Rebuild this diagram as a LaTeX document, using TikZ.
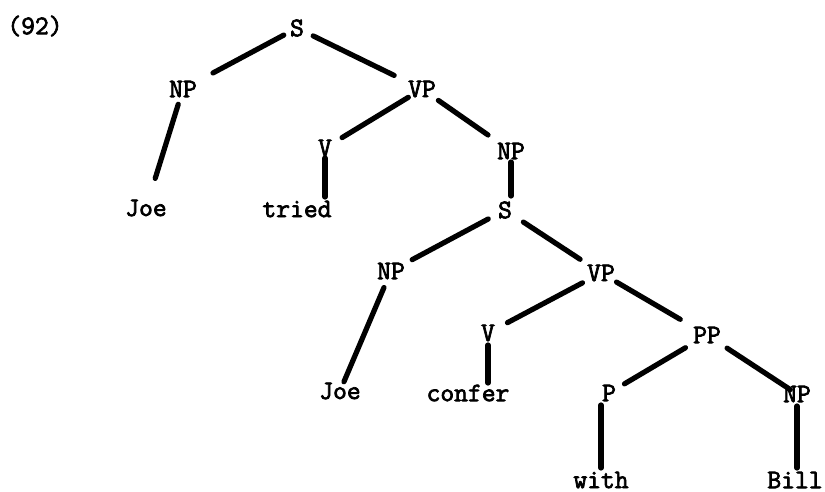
\documentclass[tikz,border=0pt]{standalone}
\usepackage{fontspec}
\newfontfamily\treefont{Latin Modern Mono}[FakeBold=2.6]
\begin{document}
\begin{tikzpicture}[x=0.5pt, y=-0.5pt,
        every node/.style={font=\treefont\fontsize{13.4}{15}\selectfont, inner sep=0pt},
        branch/.style={line width=2.6pt, line cap=round}]
            \useasboundingbox (0, 0) rectangle (825, 492);
            \path
                (35, 26) node (num) {(92)}
                (297, 28) node (s) {S}
                (183, 89) node (np) {NP}
                (422, 89) node (vp) {VP}
                (146, 208) node (joe) {Joe}
                (325, 148) node (v) {V}
                (297, 209) node (tried) {tried}
                (511, 151) node (npb) {NP}
                (505, 210) node (sb) {S}
                (391, 271) node (npc) {NP}
                (601, 273) node (vpb) {VP}
                (340, 391) node (joeb) {Joe}
                (488, 333) node (vb) {V}
                (468, 393) node (confer) {confer}
                (707, 335) node (pp) {PP}
                (609, 393) node (p) {P}
                (797, 394) node (npd) {NP}
                (601, 480) node (with) {with}
                (795, 480) node (bill) {Bill};
            \draw[branch, shorten <=7.5pt, shorten >=17pt] (s.center) -- (np.center);
            \draw[branch, shorten <=9pt, shorten >=15.5pt] (s.center) -- (vp.center);
            \draw[branch, shorten <=8pt, shorten >=15.5pt] (np.center) -- (joe.center);
            \draw[branch, shorten <=8pt, shorten >=10pt] (vp.center) -- (v.center);
            \draw[branch, shorten <=10pt, shorten >=14pt] (vp.center) -- (npb.center);
            \draw[branch, shorten <=5pt, shorten >=6pt] (v.center) -- (v.center |- tried.center);
            \draw[branch, shorten <=5.5pt, shorten >=7pt] (npb.center) -- (npb.center |- sb.center);
            \draw[branch, shorten <=9.5pt, shorten >=12pt] (sb.center) -- (npc.center);
            \draw[branch, shorten <=11pt, shorten >=12.5pt] (sb.center) -- (vpb.center);
            \draw[branch, shorten <=9pt, shorten >=5pt] (npc.center) -- (joeb.center);
            \draw[branch, shorten <=10.5pt, shorten >=11pt] (vpb.center) -- (vb.center);
            \draw[branch, shorten <=9pt, shorten >=15.5pt] (vpb.center) -- (pp.center);
            \draw[branch, shorten <=6pt, shorten >=5pt] (vb.center) -- (vb.center |- confer.center);
            \draw[branch, shorten <=12.5pt, shorten >=9pt] (pp.center) -- (p.center);
            \draw[branch, shorten <=12pt, shorten >=4pt] (pp.center) -- (npd.center);
            \draw[branch, shorten <=6pt, shorten >=6pt] (with.center |- p.center) -- (with.center);
            \draw[branch, shorten <=6pt, shorten >=6pt] (npd.center) -- (npd.center |- bill.center);
        \end{tikzpicture}
\end{document}
